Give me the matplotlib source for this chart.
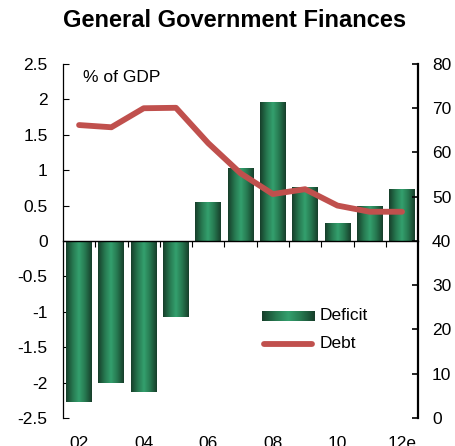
import numpy as np
import matplotlib
matplotlib.use("Agg")
import matplotlib.pyplot as plt
from matplotlib.colors import LinearSegmentedColormap

plt.rcParams['font.family'] = ['Liberation Sans', 'DejaVu Sans']

years = ["02", "03", "04", "05", "06", "07", "08", "09", "10", "11", "12e"]
deficit = [-2.28, -2.0, -2.14, -1.08, 0.55, 1.03, 1.96, 0.76, 0.25, 0.49, 0.73]
debt = [66.2, 65.7, 70.0, 70.1, 62.1, 55.3, 50.6, 51.7, 48.0, 46.6, 46.6]

green_grad = LinearSegmentedColormap.from_list(
    "bar_green", ["#173f2b", "#26774f", "#34a06e", "#26774f", "#173f2b"])
grad = np.linspace(0, 1, 64).reshape(1, -1)
debt_color = "#c0504d"
fs = 12.5


def main():
    fig = plt.figure(figsize=(4.56, 4.46), dpi=100)
    ax = fig.add_axes([0.138, 0.063, 0.779, 0.7935])
    x = np.arange(len(years))

    bars = ax.bar(x, deficit, width=0.8, color="none", edgecolor="none", zorder=2)
    for b in bars:
        x0, y0 = b.get_x(), b.get_y()
        im = ax.imshow(grad, cmap=green_grad, aspect="auto", zorder=2,
                       extent=[x0, x0 + b.get_width(), y0, y0 + b.get_height()])
        im.set_clip_path(b)

    ax.set_xlim(-0.5, len(years) - 0.5)
    ax.set_ylim(-2.5, 2.5)
    ax.set_yticks(np.arange(-2.5, 2.51, 0.5))
    ax.set_yticklabels([f"{v:g}" for v in np.arange(-2.5, 2.51, 0.5)])

    # x axis runs along zero with ticks between categories
    ax.spines["bottom"].set_position(("data", 0))
    ax.spines["bottom"].set_linewidth(1.0)
    ax.spines["bottom"].set_zorder(3)
    ax.set_xticks(x[:-1] + 0.5, labels=[""] * (len(years) - 1))
    ax.tick_params(axis="x", direction="out", length=4, width=0.8)

    # year labels under the plot area
    lab_ax = ax.secondary_xaxis("bottom")
    lab_ax.set_xticks(x[::2], labels=years[::2])
    lab_ax.tick_params(axis="x", length=0, pad=13, labelsize=fs)
    lab_ax.spines["bottom"].set_visible(False)

    ax.tick_params(axis="y", direction="in", length=4, width=0.8, pad=11, labelsize=fs)
    for s in ("top", "right"):
        ax.spines[s].set_visible(False)
    ax.spines["left"].set_linewidth(0.9)

    ax2 = ax.twinx()
    ax2.plot(x, debt, color=debt_color, lw=4.2, solid_capstyle="round",
             solid_joinstyle="round", zorder=4)
    ax2.set_ylim(0, 80)
    ax2.set_yticks(range(0, 81, 10))
    ax2.tick_params(axis="y", direction="in", length=4, width=1.2, pad=10, labelsize=fs)
    for s in ("top", "bottom", "left"):
        ax2.spines[s].set_visible(False)
    ax2.spines["right"].set_linewidth(1.6)

    ax.text(0.056, 0.963, "% of GDP", transform=ax.transAxes, fontsize=fs,
            va="center", ha="left")

    # legend drawn by hand so the bar swatch keeps its gradient
    ax2.imshow(grad, cmap=green_grad, aspect="auto", transform=ax2.transAxes,
               extent=[0.56, 0.707, 0.275, 0.301], zorder=5)
    ax2.plot([0.565, 0.702], [0.209, 0.209], transform=ax2.transAxes,
             color=debt_color, lw=4.2, solid_capstyle="round")
    ax2.text(0.722, 0.288, "Deficit", transform=ax2.transAxes, fontsize=fs, va="center")
    ax2.text(0.722, 0.209, "Debt", transform=ax2.transAxes, fontsize=fs, va="center")
    ax2.set_xlim(-0.5, len(years) - 0.5)
    ax2.set_ylim(0, 80)

    fig.text(0.515, 0.955, "General Government Finances", ha="center", va="center",
             fontsize=17, fontweight="bold")
    fig.savefig("out.png", dpi=100)


if __name__ == "__main__":
    main()
